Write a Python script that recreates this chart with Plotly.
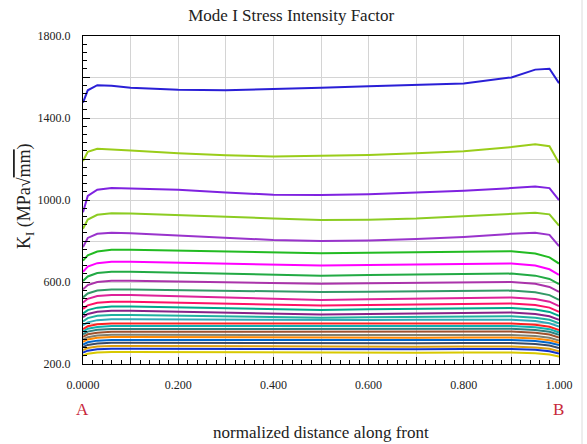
import plotly.graph_objects as go

# ---------------- data ----------------
x_norm = [0.0, 0.01, 0.03, 0.06, 0.1, 0.2, 0.3, 0.4, 0.5, 0.6, 0.7, 0.8, 0.9, 0.95, 0.98, 1.0]

k01 = [1475, 1535, 1560, 1557, 1548, 1538, 1535, 1540, 1548, 1555, 1560, 1568, 1598, 1636, 1640, 1570]
k02 = [1190, 1235, 1250, 1248, 1242, 1228, 1218, 1212, 1215, 1220, 1228, 1238, 1258, 1272, 1262, 1180]
k03 = [940, 1020, 1050, 1058, 1056, 1050, 1036, 1026, 1024, 1028, 1036, 1045, 1058, 1066, 1058, 1000]
k04 = [860, 905, 928, 935, 934, 927, 918, 910, 902, 904, 910, 920, 932, 938, 930, 875]
k05 = [770, 815, 835, 840, 838, 828, 815, 805, 800, 803, 810, 820, 835, 840, 830, 775]
k06 = [704, 730, 749, 757, 757, 753, 748, 743, 740, 743, 746, 749, 750, 739, 720, 690]
k07 = [650, 675, 692, 699, 699, 694, 689, 683, 680, 683, 686, 689, 690, 680, 662, 635]
k08 = [605, 627, 644, 650, 650, 645, 640, 634, 631, 634, 637, 640, 641, 631, 615, 590]
k09 = [564, 585, 600, 606, 606, 602, 598, 594, 592, 594, 596, 599, 600, 591, 576, 552]
k10 = [525, 544, 558, 564, 564, 561, 557, 553, 551, 553, 555, 557, 558, 550, 536, 513]
k11 = [500, 518, 532, 537, 537, 531, 523, 516, 512, 516, 520, 524, 525, 517, 504, 483]
k12 = [469, 486, 499, 504, 504, 499, 494, 488, 485, 488, 491, 494, 495, 488, 475, 455]
k13 = [446, 463, 475, 480, 480, 476, 472, 467, 464, 467, 470, 472, 473, 466, 454, 435]
k14 = [428, 444, 455, 460, 460, 455, 450, 444, 441, 444, 447, 450, 451, 444, 433, 415]
k15 = [408, 424, 435, 439, 439, 436, 432, 428, 426, 428, 430, 432, 433, 426, 416, 398]
k16 = [389, 403, 414, 418, 418, 417, 416, 415, 414, 415, 416, 416, 416, 410, 399, 383]
k17 = [370, 384, 394, 398, 398, 398, 398, 398, 398, 398, 398, 398, 398, 392, 382, 366]
k18 = [358, 372, 381, 385, 385, 385, 385, 385, 385, 385, 385, 385, 385, 379, 370, 354]
k19 = [345, 358, 367, 371, 371, 371, 372, 372, 372, 372, 372, 372, 372, 366, 357, 342]
k20 = [332, 345, 353, 357, 357, 357, 358, 358, 358, 358, 358, 358, 358, 353, 344, 329]
k21 = [319, 331, 339, 343, 343, 342, 341, 341, 341, 341, 341, 342, 342, 337, 328, 315]
k22 = [308, 320, 328, 332, 332, 331, 329, 328, 328, 328, 328, 329, 329, 324, 316, 303]
k23 = [295, 306, 314, 317, 317, 317, 317, 317, 317, 317, 317, 317, 317, 312, 304, 292]
k24 = [283, 293, 300, 304, 304, 303, 302, 301, 301, 301, 301, 302, 302, 297, 290, 278]
k25 = [268, 278, 285, 288, 288, 287, 285, 284, 284, 284, 284, 285, 285, 281, 274, 262]
k26 = [256, 265, 272, 275, 275, 274, 273, 272, 272, 272, 272, 273, 273, 269, 262, 251]
k27 = [241, 250, 256, 259, 259, 258, 256, 255, 255, 255, 255, 256, 256, 252, 246, 236]

curve_colors = [
    "#2a1fd6", "#9acd1a", "#7f22e0", "#8ccc22", "#9933cc",
    "#22bb22", "#ff00ff", "#22aa44", "#aa33aa", "#339966",
    "#dd2299", "#ff1166", "#00a88a", "#882288", "#20b0a0",
    "#30a8b8", "#ff2020", "#10b0b0", "#2f7f7f", "#a0522d",
    "#808070", "#ff8800", "#0066cc", "#3a4a66", "#dda010",
    "#1133cc", "#d8c800", "#0b0b8f",
]

x_tick_vals = [0.0, 0.1, 0.2, 0.3, 0.4, 0.5, 0.6, 0.7, 0.8, 0.9, 1.0]
x_tick_text = ["0.0000", "", "0.200", "", "0.400", "", "0.600", "", "0.800", "", "1.000"]
y_tick_vals = [200, 400, 600, 800, 1000, 1200, 1400, 1600, 1800]
y_tick_text = ["200.0", "", "600.0", "", "1000.0", "", "1400.0", "", "1800.0"]

series = [k01, k02, k03, k04, k05, k06, k07, k08, k09, k10, k11, k12, k13, k14,
          k15, k16, k17, k18, k19, k20, k21, k22, k23, k24, k25, k26, k27]

SERIF = "Liberation Serif, Times New Roman, serif"

fig = go.Figure()
for i, ys in enumerate(series):
    fig.add_trace(go.Scatter(
        x=x_norm, y=ys, mode="lines",
        line=dict(color=curve_colors[i % len(curve_colors)], width=2),
        showlegend=False, hoverinfo="skip",
    ))

axis_common = dict(
    showline=True, mirror=True, linecolor="black", linewidth=1.2,
    showgrid=True, gridcolor="#d4d4d4", gridwidth=1, zeroline=False,
    ticks="inside", ticklen=7, tickcolor="black", tickwidth=1,
    tickmode="array",
    tickfont=dict(family=SERIF, size=12, color="#222222"),
)

fig.update_xaxes(
    range=[0, 1], tickvals=x_tick_vals, ticktext=x_tick_text,
    minor=dict(tickmode="linear", tick0=0, dtick=0.02, ticks="inside",
               ticklen=4, tickcolor="black", showgrid=False),
    ticklabelstandoff=9, **axis_common,
)
fig.update_yaxes(
    range=[200, 1800], tickvals=y_tick_vals, ticktext=y_tick_text,
    minor=dict(tickmode="linear", tick0=200, dtick=40, ticks="inside",
               ticklen=4, tickcolor="black", showgrid=False),
    ticklabelstandoff=9, **axis_common,
)

fig.update_layout(
    width=587, height=444,
    margin=dict(l=83, r=28, t=36, b=80),
    paper_bgcolor="white", plot_bgcolor="white",
    title=dict(text="Mode I Stress Intensity Factor", x=0.496, xanchor="center",
               y=1 - 15 / 444, yanchor="middle", yref="container",
               font=dict(family=SERIF, size=17, color="#222222")),
    annotations=[
        dict(text="K<sub>I</sub> (MPa√<span style='text-decoration:overline'>mm</span>)",
             textangle=-90, xref="paper", yref="paper",
             x=(25 - 83) / 476, y=1 - (196 - 36) / 328, xanchor="center", yanchor="middle",
             showarrow=False, font=dict(family=SERIF, size=18, color="#222222")),
        dict(text="normalized distance along front", xref="paper", yref="paper",
             x=(321 - 83) / 476, y=-(432 - 364) / 328, xanchor="center", yanchor="middle",
             showarrow=False, font=dict(family=SERIF, size=17, color="#222222")),
        dict(text="A", xref="paper", yref="paper", x=(82 - 83) / 476,
             y=-(410 - 364) / 328, xanchor="center", yanchor="middle",
             showarrow=False, font=dict(family=SERIF, size=17, color="#c8283a")),
        dict(text="B", xref="paper", yref="paper", x=(558 - 83) / 476,
             y=-(410 - 364) / 328, xanchor="center", yanchor="middle",
             showarrow=False, font=dict(family=SERIF, size=17, color="#c8283a")),
    ],
    shapes=[
        dict(type="line", xref="paper", yref="paper",
             x0=(582 - 83) / 476, x1=(582 - 83) / 476,
             y0=-(444 - 364) / 328, y1=1 + 36 / 328,
             line=dict(color="#dcdcdc", width=1)),
    ],
)

fig.write_html("out.html",
               config={"displayModeBar": False},
               post_script="document.body.style.margin='0';document.body.style.padding='0';")
